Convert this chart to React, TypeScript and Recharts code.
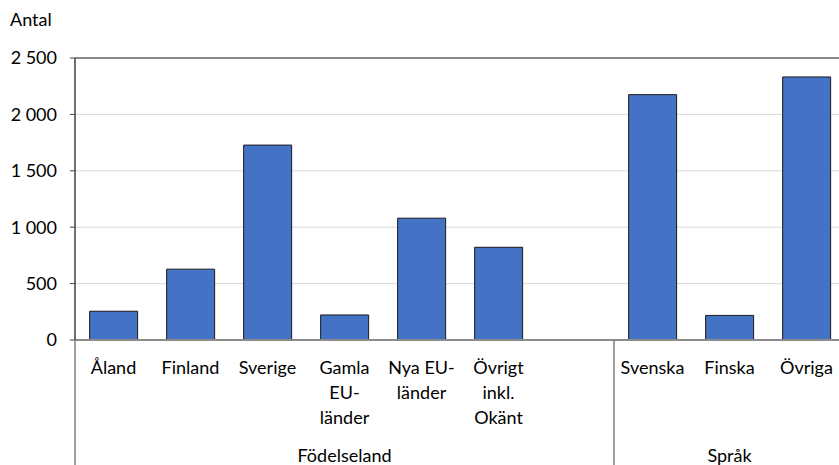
import { BarChart, Bar, XAxis, YAxis, CartesianGrid, ReferenceLine } from "recharts";

const categories = ["Åland", "Finland", "Sverige", "Gamla\nEU-\nländer", "Nya EU-\nländer", "Övrigt\ninkl.\nOkänt", "", "Svenska", "Finska", "Övriga"];
const values = [255, 628, 1728, 222, 1080, 822, null, 2175, 218, 2332];
const groups = ["Födelseland", "Födelseland", "Födelseland", "Födelseland", "Födelseland", "Födelseland", "Födelseland", "Språk", "Språk", "Språk"];
const yTicks = [0, 500, 1000, 1500, 2000, 2500];

const data = categories.map((name, i) => ({ name, value: values[i], group: groups[i], idx: i }));

const FONT = "Lato, 'Open Sans', sans-serif";
const FS = 18;

const fmt = (v: number) => (v >= 1000 ? `${Math.floor(v / 1000)} ${String(v % 1000).padStart(3, "0")}` : String(v));

const CategoryTick = (props: any) => {
  const { x, y, payload, index } = props;
  const half = payload?.offset ?? 38.5;
  const lines = String(categories[index] ?? "").split("\n");
  const g = groups[index];
  const first = index === 0 || groups[index - 1] !== g;
  let groupEl = null;
  if (first) {
    const count = groups.filter((v) => v === g).length;
    const left = x - half;
    const center = left + count * half;
    groupEl = (
      <g>
        <line x1={left} y1={y - 8} x2={left} y2={y + 130} stroke="#808080" strokeWidth={1.5} />
        <text x={center} y={y + 114} textAnchor="middle" fontSize={FS} fill="#000" fontFamily={FONT}>
          {g}
        </text>
      </g>
    );
  }
  return (
    <g>
      {lines.map((l, i) => (
        <text key={i} x={x} y={y + 26 + i * 25} textAnchor="middle" fontSize={FS} fill="#000" fontFamily={FONT}>
          {l}
        </text>
      ))}
      {groupEl}
    </g>
  );
};

export default function App() {
  return (
    <div style={{ position: "absolute", left: 0, top: 0, width: 839, height: 465, overflow: "hidden", background: "#fff" }}>
      <div style={{ position: "absolute", left: 10, top: 8, fontSize: FS, lineHeight: "22px", fontFamily: FONT }}>Antal</div>
      <BarChart width={853} height={465} data={data} margin={{ top: 58, right: 8, bottom: 0, left: 0 }} barCategoryGap="19%">
        <CartesianGrid vertical={false} stroke="#d9d9d9" />
        <ReferenceLine y={2500} stroke="#8c8c8c" strokeWidth={2} />
        <XAxis
          dataKey="idx"
          interval={0}
          height={125}
          tickLine={false}
          axisLine={{ stroke: "#8c8c8c", strokeWidth: 2 }}
          tick={<CategoryTick />}
        />
        <YAxis
          width={75}
          domain={[0, 2500]}
          ticks={yTicks}
          tickFormatter={fmt}
          tickSize={5}
          tickMargin={13}
          axisLine={{ stroke: "#404040", strokeWidth: 1.5 }}
          tickLine={{ stroke: "#404040" }}
          tick={{ fill: "#000", fontSize: FS, fontFamily: FONT }}
        />
        <Bar dataKey="value" fill="#4472c4" stroke="#1a1a1a" strokeWidth={1} isAnimationActive={false} />
      </BarChart>
    </div>
  );
}
